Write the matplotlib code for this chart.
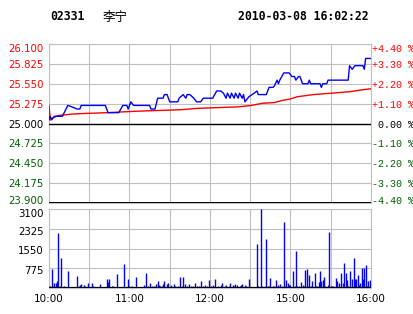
import matplotlib.pyplot as plt
from matplotlib.transforms import ScaledTranslation

# time axis: trading minutes from 10:00 (0) to 16:00 (240), lunch break removed
price_min = [0, 1, 2, 4, 10, 14, 17, 21, 23, 24, 42, 44, 52, 55, 58, 59, 61, 63, 75, 76,
             79, 81, 85, 86, 88, 89, 90, 96, 97, 100, 102, 103, 105, 108, 110, 113, 115, 122,
             125, 128, 130, 132, 133, 135, 136, 138, 139, 141, 142, 144, 145, 146, 149, 153,
             155, 156, 162, 164, 167, 168, 170, 171, 172, 175, 179, 181, 183, 184, 186, 187,
             189, 193, 194, 195, 202, 203, 204, 207, 208, 223, 224, 226, 228, 234, 235, 236, 240]
price = [25.05, 25.10, 25.05, 25.10, 25.10, 25.25, 25.23, 25.20, 25.20, 25.25, 25.25, 25.15,
         25.15, 25.25, 25.25, 25.20, 25.30, 25.25, 25.25, 25.20, 25.20, 25.35, 25.35, 25.40,
         25.40, 25.35, 25.30, 25.30, 25.35, 25.40, 25.35, 25.40, 25.40, 25.35, 25.30, 25.30,
         25.35, 25.35, 25.45, 25.45, 25.42, 25.35, 25.42, 25.35, 25.42, 25.35, 25.42, 25.35,
         25.42, 25.35, 25.40, 25.30, 25.37, 25.42, 25.45, 25.40, 25.40, 25.50, 25.50, 25.52,
         25.60, 25.55, 25.60, 25.70, 25.70, 25.65, 25.65, 25.60, 25.65, 25.65, 25.55, 25.55,
         25.60, 25.55, 25.55, 25.50, 25.55, 25.55, 25.60, 25.60, 25.80, 25.75, 25.80, 25.80,
         25.75, 25.90, 25.90]

avg_min = [0, 1, 3, 7, 17, 28, 44, 54, 66, 81, 98, 111, 126, 141, 151, 159, 168, 174, 180,
           185, 197, 211, 224, 235, 240]
avg_price = [25.25, 25.05, 25.08, 25.11, 25.13, 25.14, 25.15, 25.16, 25.17, 25.18, 25.19,
             25.21, 25.22, 25.23, 25.25, 25.28, 25.29, 25.32, 25.34, 25.37, 25.40, 25.42,
             25.44, 25.47, 25.48]

vol_min = [1, 2, 3, 4, 5, 6, 7, 8, 9, 11, 14, 21, 22, 23, 24, 26, 27, 29, 32, 33, 38, 43, 44,
           45, 47, 48, 51, 56, 59, 60, 62, 65, 71, 72, 74, 75, 77, 78, 80, 81, 82, 83, 84, 85,
           86, 88, 89, 91, 93, 94, 96, 98, 99, 100, 101, 103, 104, 106, 107, 109, 110, 112,
           113, 115, 116, 118, 119, 121, 122, 124, 126, 128, 129, 131, 132, 134, 135, 137, 138,
           139, 140, 142, 143, 144, 146, 147, 149,
           155, 156, 158, 159, 161, 162, 163, 164, 165, 167, 168, 169, 171, 172, 174, 175, 176,
           177, 178, 179, 180, 182, 183, 184, 185, 186, 188, 189, 190, 191, 192, 193, 194, 195,
           196, 198, 199, 200, 201, 202, 203, 204, 205, 206, 208, 209, 210, 211, 212, 214, 215,
           216, 218, 219, 220, 221, 222, 223, 224, 226, 227, 228, 229, 230, 231, 232, 233, 234,
           235, 236, 237, 238, 239]
vol = [92, 750, 92, 197, 197, 290, 2170, 92, 1180, 92, 680, 480, 92, 130, 158, 130, 66, 197,
       197, 66, 158, 370, 236, 370, 92, 92, 550, 960, 370, 92, 92, 420, 130, 573, 92, 197, 92,
       66, 158, 290, 130, 92, 92, 158, 290, 158, 197, 130, 158, 92, 92, 420, 92, 420, 158, 92,
       158, 92, 92, 197, 92, 92,
       270, 94, 135, 94, 297, 94, 135, 364, 94, 135, 200, 94, 135, 94, 200, 135, 94, 175, 135,
       94, 135, 175, 135, 94, 337,
       1712, 94, 3100, 94, 94, 1928, 94, 94, 377, 94, 94, 297, 135, 175, 94, 2600, 94, 297,
       200, 135, 135, 660, 94, 1442, 94, 94, 230, 135, 94, 700, 740, 94, 500, 94, 270, 580,
       94, 94, 230, 660, 270, 310, 445, 94, 135, 2200, 94, 94, 94, 404, 270, 200, 580, 200,
       985, 580, 310, 94, 660, 337, 1173, 337, 364, 500, 135, 200, 770, 337, 770, 900, 94,
       270, 310]

price_ticks = [26.100, 25.825, 25.550, 25.275, 25.000, 24.725, 24.450, 24.175, 23.900]
pct_labels = ['+4.40 %', '+3.30 %', '+2.20 %', '+1.10 %', ' 0.00 %',
              '-1.10 %', '-2.20 %', '-3.30 %', '-4.40 %']
vol_ticks = [775, 1550, 2325, 3100]
time_ticks = [0, 60, 120, 180, 240]
time_labels = ['10:00', '11:00', '12:00', '15:00', '16:00']

RED = '#FF0000'
GREEN = '#006000'
GRID = '#C0C0C0'

def label_color(v):
    if v > 25.0:
        return RED
    if v < 25.0:
        return GREEN
    return 'black'

fig = plt.figure(figsize=(4.14, 3.14), dpi=100)
fig.patch.set_facecolor('white')

def nudge(lab, dy_px):
    lab.set_transform(lab.get_transform() + ScaledTranslation(0, dy_px / 100, fig.dpi_scale_trans))

fig.text(50/414, 1 - 17/314, '02331', family='DejaVu Sans Mono', weight='bold',
         size=8.3, va='center')
fig.text(103/414, 1 - 17/314, '李宁', family=['Noto Sans CJK SC', 'DejaVu Sans'],
         size=9, va='center')
fig.text(238/414, 1 - 17/314, '2010-03-08 16:02:22', family='DejaVu Sans Mono',
         weight='bold', size=8.3, va='center')

# price panel
ax1 = fig.add_axes([49/414, 1 - 203/314, 322/414, 159/314])
ax1.set_xlim(0, 240)
ax1.set_ylim(23.9, 26.1)
ax1.set_xticks(range(0, 241, 30))
ax1.set_xticklabels([])
ax1.set_yticks(price_ticks)
ax1.set_yticklabels(['%.3f' % v for v in price_ticks], fontsize=7.3)
for lab, v in zip(ax1.get_yticklabels(), price_ticks):
    lab.set_color(label_color(v))
ax1.tick_params(length=0, pad=3.6)
ax1.grid(True, color=GRID, linewidth=0.8)
for s in ax1.spines.values():
    s.set_color(GRID)
    s.set_linewidth(0.8)
ax1.axhline(25.0, color='black', linewidth=1.0, zorder=3)
ax1.axhline(23.9, color='black', linewidth=1.4, zorder=3)
ax1.plot(avg_min, avg_price, color=RED, linewidth=1.0, zorder=4)
ax1.plot(price_min, price, color='#0000FF', linewidth=1.0, zorder=5)

ax1r = ax1.twinx()
ax1r.set_ylim(23.9, 26.1)
ax1r.set_yticks(price_ticks)
ax1r.set_yticklabels(pct_labels, family='Liberation Mono', fontsize=7.2)
for lab, v in zip(ax1r.get_yticklabels(), price_ticks):
    lab.set_color(label_color(v))
ax1r.tick_params(length=0, pad=0.7)
for s in ax1r.spines.values():
    s.set_visible(False)

for axis in (ax1, ax1r):
    labs = axis.get_yticklabels()
    nudge(labs[0], -3.5)
    nudge(labs[-1], 3)

# volume panel
ax2 = fig.add_axes([49/414, 1 - 288/314, 322/414, 79/314])
ax2.set_xlim(0, 240)
ax2.set_ylim(0, 3100)
ax2.set_xticks(range(0, 241, 30))
ax2.set_xticklabels(['10:00', '', '11:00', '', '12:00', '', '15:00', '', '16:00'],
                    fontsize=7.5)
ax2.set_yticks(vol_ticks)
ax2.set_yticklabels([str(v) for v in vol_ticks], fontsize=7.3)
ax2.tick_params(length=0, pad=3.6)
ax2.tick_params(axis='x', pad=4)
ax2.grid(True, color=GRID, linewidth=0.8)
for s in ax2.spines.values():
    s.set_color(GRID)
    s.set_linewidth(0.8)
ax2.vlines(vol_min, 0, vol, color='#0000FF', linewidth=1.0, zorder=4)
ax2.axhline(0, color='black', linewidth=1.6, zorder=5)

vlabs = ax2.get_yticklabels()
for lab in vlabs[:-1]:
    nudge(lab, -2)
nudge(vlabs[-1], -4)

fig.savefig('out.png', dpi=100)
